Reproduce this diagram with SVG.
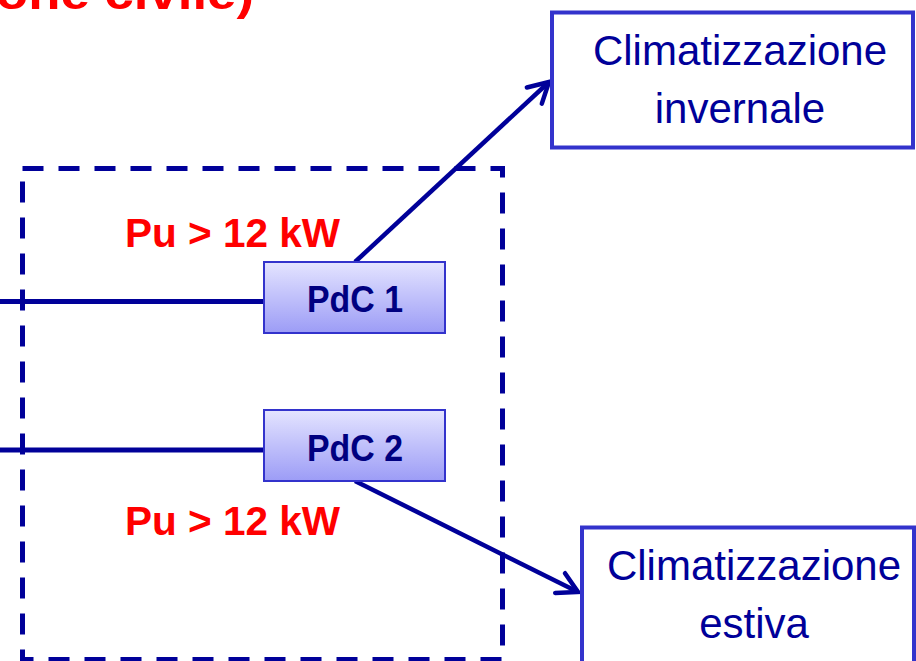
<svg xmlns="http://www.w3.org/2000/svg" width="916" height="661" viewBox="0 0 916 661">
<style>
.navy{stroke:#000099;fill:none}
.out{fill:#fff;stroke:#3333cc;stroke-width:4}
.pdc{fill:url(#g);stroke:#3333cc;stroke-width:2}
.red{font-family:"Liberation Sans",Arial,sans-serif;font-weight:bold;fill:#ff0000}
.ctext{font-family:"Liberation Sans",Arial,sans-serif;font-size:42px;fill:#000099;text-anchor:middle}
.ptext{font-family:"Liberation Sans",Arial,sans-serif;font-weight:bold;font-size:36px;fill:#000080;text-anchor:middle}
</style>
<defs>
<linearGradient id="g" x1="0" y1="0" x2="0" y2="1">
<stop offset="0" stop-color="#e4e4ff"/>
<stop offset="1" stop-color="#9c9cf6"/>
</linearGradient>
<marker id="ah" markerUnits="userSpaceOnUse" viewBox="0 0 30 30" markerWidth="30" markerHeight="30" refX="23" refY="15" orient="auto">
<path d="M3,4 L23,15 L3,26" fill="none" stroke="#000099" stroke-width="4.5" stroke-linecap="round" stroke-linejoin="miter"/>
</marker>
</defs>
<g id="title">
<text class="red" x="-4" y="9" font-size="46" textLength="258" lengthAdjust="spacingAndGlyphs">one civile)</text>
</g>
<g id="boundary">
<rect x="22.5" y="168.5" width="480" height="491" class="navy" stroke-width="5" stroke-dasharray="21 15"/>
</g>
<g id="connectors">
<line x1="0" y1="301.5" x2="263" y2="301.5" class="navy" stroke-width="5"/>
<line x1="0" y1="450" x2="263" y2="450" class="navy" stroke-width="5"/>
<line x1="355" y1="262" x2="549" y2="82" class="navy" stroke-width="4.5" marker-end="url(#ah)"/>
<line x1="355" y1="481" x2="578" y2="592" class="navy" stroke-width="4.5" marker-end="url(#ah)"/>
</g>
<g id="label1"><text class="red" x="232.5" y="247" font-size="41" text-anchor="middle" textLength="215" lengthAdjust="spacingAndGlyphs">Pu &gt; 12 kW</text></g>
<g id="label2"><text class="red" x="232.5" y="535" font-size="41" text-anchor="middle" textLength="215" lengthAdjust="spacingAndGlyphs">Pu &gt; 12 kW</text></g>
<g id="pdc1">
<rect x="264" y="262" width="181" height="71" class="pdc"/>
<text class="ptext" x="355" y="312" textLength="96" lengthAdjust="spacingAndGlyphs">PdC 1</text>
</g>
<g id="pdc2">
<rect x="264" y="410" width="181" height="71" class="pdc"/>
<text class="ptext" x="355" y="461" textLength="96" lengthAdjust="spacingAndGlyphs">PdC 2</text>
</g>
<g id="invernale">
<rect x="552" y="12.5" width="361" height="135" class="out"/>
<text class="ctext" x="740" y="65">Climatizzazione</text>
<text class="ctext" x="740" y="123">invernale</text>
</g>
<g id="estiva">
<rect x="582" y="527.5" width="332" height="150" class="out"/>
<text class="ctext" x="754" y="580">Climatizzazione</text>
<text class="ctext" x="754" y="638">estiva</text>
</g>
</svg>
